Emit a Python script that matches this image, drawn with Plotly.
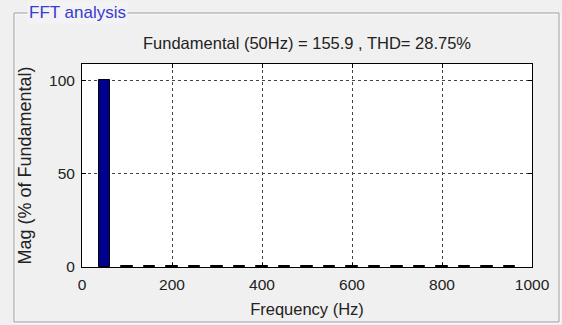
import plotly.graph_objects as go

# Data
freqs = [50, 100, 150, 200, 250, 300, 350, 400, 450, 500,
         550, 600, 650, 700, 750, 800, 850, 900, 950]
mags = [100, 0.4, 0.4, 0.4, 0.4, 0.4, 0.4, 0.4, 0.4, 0.4,
        0.4, 0.4, 0.4, 0.4, 0.4, 0.4, 0.4, 0.4, 0.4]
title_text = "Fundamental (50Hz) = 155.9 , THD= 28.75%"
panel_title = "FFT analysis"
x_ticks = [0, 200, 400, 600, 800, 1000]
y_ticks = [0, 50, 100]

W, H = 562, 325
L, R, T, B = 82, 532, 64, 267  # plot area in px
pw, ph = R - L, B - T

def px_to_paper_x(px):
    return (px - L) / pw

def px_to_paper_y(py):
    return (B - py) / ph

font_family = "Liberation Sans, Arial, sans-serif"
text_color = "#222222"

fig = go.Figure()
fig.add_trace(go.Bar(
    x=freqs, y=mags, width=26,
    marker=dict(color="#00008f", line=dict(color="black", width=1)),
    showlegend=False, hoverinfo="x+y",
))

axis_common = dict(
    showline=True, linecolor="black", linewidth=1, mirror="ticks",
    ticks="inside", ticklen=4, tickcolor="black",
    showgrid=True, gridcolor="#444444", griddash="3px,3px", gridwidth=1,
    zeroline=False, automargin=False,
    tickfont=dict(family=font_family, size=15.5, color=text_color),
)

fig.update_layout(
    width=W, height=H,
    margin=dict(l=L, r=W - R, t=T, b=H - B, autoexpand=False),
    paper_bgcolor="#f0f0f0", plot_bgcolor="white",
    bargap=0,
    xaxis=dict(range=[0, 1000], tickvals=x_ticks, ticklabelstandoff=3,
               title=dict(text="Frequency (Hz)", standoff=11,
                          font=dict(family=font_family, size=16.5, color=text_color)),
               **axis_common),
    yaxis=dict(range=[0, 108.7], tickvals=y_ticks, ticklabelstandoff=3,
               title=dict(text="Mag (% of Fundamental)", standoff=12,
                          font=dict(family=font_family, size=18, color=text_color)),
               **axis_common),
    font=dict(family=font_family),
)

# Panel (group box) border: gray line with white highlight
fig.add_shape(type="rect", xref="paper", yref="paper",
              x0=px_to_paper_x(15), x1=px_to_paper_x(560),
              y0=px_to_paper_y(323), y1=px_to_paper_y(14),
              line=dict(color="#ffffff", width=1), fillcolor="rgba(0,0,0,0)", layer="below")
fig.add_shape(type="rect", xref="paper", yref="paper",
              x0=px_to_paper_x(14), x1=px_to_paper_x(559),
              y0=px_to_paper_y(322), y1=px_to_paper_y(13),
              line=dict(color="#a0a0a0", width=1), fillcolor="rgba(0,0,0,0)", layer="below")

# Panel title
fig.add_annotation(text=panel_title, xref="paper", yref="paper",
                   x=px_to_paper_x(27), y=px_to_paper_y(13), xanchor="left", yanchor="middle",
                   showarrow=False, bgcolor="#f3f3f6",
                   font=dict(family=font_family, size=17, color="#3a3ad0"))

# Chart title
fig.add_annotation(text=title_text, xref="paper", yref="paper",
                   x=0.5, y=px_to_paper_y(43), xanchor="center", yanchor="middle",
                   showarrow=False,
                   font=dict(family=font_family, size=16.5, color=text_color))

fig.write_html("out.html", config={"displayModeBar": False},
               post_script="document.body.style.margin='0';document.body.style.background='#f0f0f0';")
